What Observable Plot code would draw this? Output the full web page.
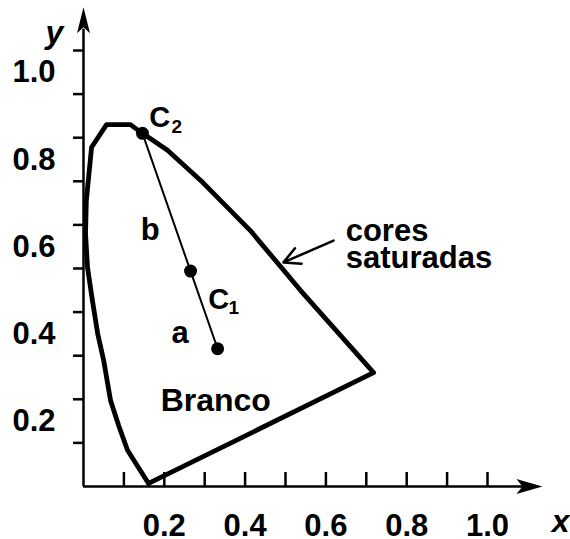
<!DOCTYPE html>
<html><head><meta charset="utf-8">
<script src="https://cdn.jsdelivr.net/npm/d3@7"></script>
<script src="https://cdn.jsdelivr.net/npm/@observablehq/plot@0.6"></script>
<style>body{margin:0;background:#fff}</style>
</head><body><div id="chart"></div>
<script>
// Axis ticks and tick labels
const xTicks = [0.1,0.2,0.3,0.4,0.5,0.6,0.7,0.8,0.9,1.0];
const yTicks = [0.1,0.2,0.3,0.4,0.5,0.6,0.7,0.8,0.9,1.0];
const xTickLabels = [0.2,0.4,0.6,0.8,1.0];
const yTickLabels = [0.2,0.4,0.6,0.8,1.0];
const xAxisEnd = 1.136;
const yAxisEnd = 1.099;

// Spectral locus outline (closed)
const locusX = [0.161,0.109,0.087,0.067,0.050,0.035,0.022,0.010,0.005,0.007,0.020,0.057,0.116,0.146,0.208,0.290,0.413,0.537,0.718,0.161];
const locusY = [0.007,0.083,0.140,0.197,0.289,0.351,0.427,0.502,0.580,0.656,0.778,0.830,0.830,0.810,0.771,0.702,0.587,0.450,0.261,0.007];

// Points C2, C1, white
const pointX = [0.146,0.265,0.332];
const pointY = [0.810,0.494,0.316];

// Pointer arrow "cores saturadas"
const pointerFrom = [0.619,0.564];
const pointerTo = [0.495,0.514];

// Labels
const labelText = ["C","b","C","a","Branco","cores","saturadas"];
const labelX = [0.163,0.165,0.309,0.239,0.191,0.649,0.649];
const labelY = [0.846,0.589,0.428,0.353,0.197,0.585,0.523];
const labelAnchor = ["start","middle","start","middle","start","start","start"];
const labelSize = [29,31,29,31,32,31,31];
const subText = ["2","1"];
const subX = [0.218,0.359];
const subY = [0.825,0.409];
const axisNames = ["x","y"];
const axisNameX = [1.181,-0.072];
const axisNameY = [-0.080,1.041];

const locus = locusX.map((x,i)=>({x, y: locusY[i]}));
const points = pointX.map((x,i)=>({x, y: pointY[i]}));
const labels = labelText.map((t,i)=>({t, x: labelX[i], y: labelY[i], a: labelAnchor[i], s: labelSize[i]}));
const subs = subText.map((t,i)=>({t, x: subX[i], y: subY[i]}));
const names = axisNames.map((t,i)=>({t, x: axisNameX[i], y: axisNameY[i]}));

const upHead = {draw(c){c.moveTo(0,0);c.lineTo(-6.5,26);c.lineTo(0,20);c.lineTo(6.5,26);c.closePath();}};
const rightHead = {draw(c){c.moveTo(0,0);c.lineTo(-26,-7.5);c.lineTo(-20,0);c.lineTo(-26,7.5);c.closePath();}};

const font = "Liberation Sans, Arial, Helvetica, sans-serif";
const textMarks = ["start","middle"].flatMap(a => [29,31,32].map(s =>
  Plot.text(labels.filter(d => d.a === a && d.s === s), {x: "x", y: "y", text: "t", textAnchor: a, fontSize: s, fontWeight: "bold", fill: "black"})
));
const xTickLen = 14 / 436; // tick length in y units (frame height 436px)

const chart = Plot.plot({
  width: 570, height: 539,
  marginLeft: 83, marginRight: 83, marginTop: 50, marginBottom: 53,
  x: {domain: [0, 1]},
  y: {domain: [0, 1]},
  style: {fontFamily: font, fontWeight: "bold", color: "black", background: "white", overflow: "visible"},
  marks: [
    Plot.ruleX([0], {y1: 0, y2: yAxisEnd - 0.05, strokeWidth: 2.5, stroke: "black"}),
    Plot.ruleY([0], {x1: 0, x2: xAxisEnd - 0.04, strokeWidth: 2.5, stroke: "black"}),
    Plot.dot([0], {x: 0, y: yAxisEnd, symbol: upHead, fill: "black", stroke: "none"}),
    Plot.dot([0], {x: xAxisEnd, y: 0, symbol: rightHead, fill: "black", stroke: "none"}),
    Plot.axisY(yTicks, {anchor: "left", tickSize: 10, strokeWidth: 2.5, tickFormat: () => "", label: null}),
    Plot.ruleX(xTicks, {x: d => d, y1: 0, y2: xTickLen, strokeWidth: 2.5, stroke: "black"}),
    Plot.axisY(yTickLabels, {anchor: "left", tickSize: 0, tickPadding: 28, dy: 22, fontSize: 31, fontWeight: "bold", tickFormat: d => d.toFixed(1), label: null}),
    Plot.axisX(xTickLabels, {anchor: "bottom", tickSize: 0, tickPadding: 27, fontSize: 31, fontWeight: "bold", tickFormat: d => d.toFixed(1), label: null}),
    Plot.line(locus, {x: "x", y: "y", strokeWidth: 4.8, strokeLinejoin: "round", stroke: "black"}),
    Plot.line(points, {x: "x", y: "y", strokeWidth: 2, stroke: "black"}),
    Plot.dot(points, {x: "x", y: "y", r: 6.5, fill: "black", stroke: "none"}),
    Plot.arrow([0], {x1: pointerFrom[0], y1: pointerFrom[1], x2: pointerTo[0], y2: pointerTo[1], headLength: 14, headAngle: 55, strokeWidth: 2.5, stroke: "black"}),
    ...textMarks,
    Plot.text(subs, {x: "x", y: "y", text: "t", textAnchor: "start", fontSize: 19, fontWeight: "bold", fill: "black"}),
    Plot.text(names, {x: "x", y: "y", text: "t", textAnchor: "middle", fontSize: 32, fontWeight: "bold", fontStyle: "italic", fill: "black"})
  ]
});
document.getElementById("chart").appendChild(chart);
</script>
</body></html>
